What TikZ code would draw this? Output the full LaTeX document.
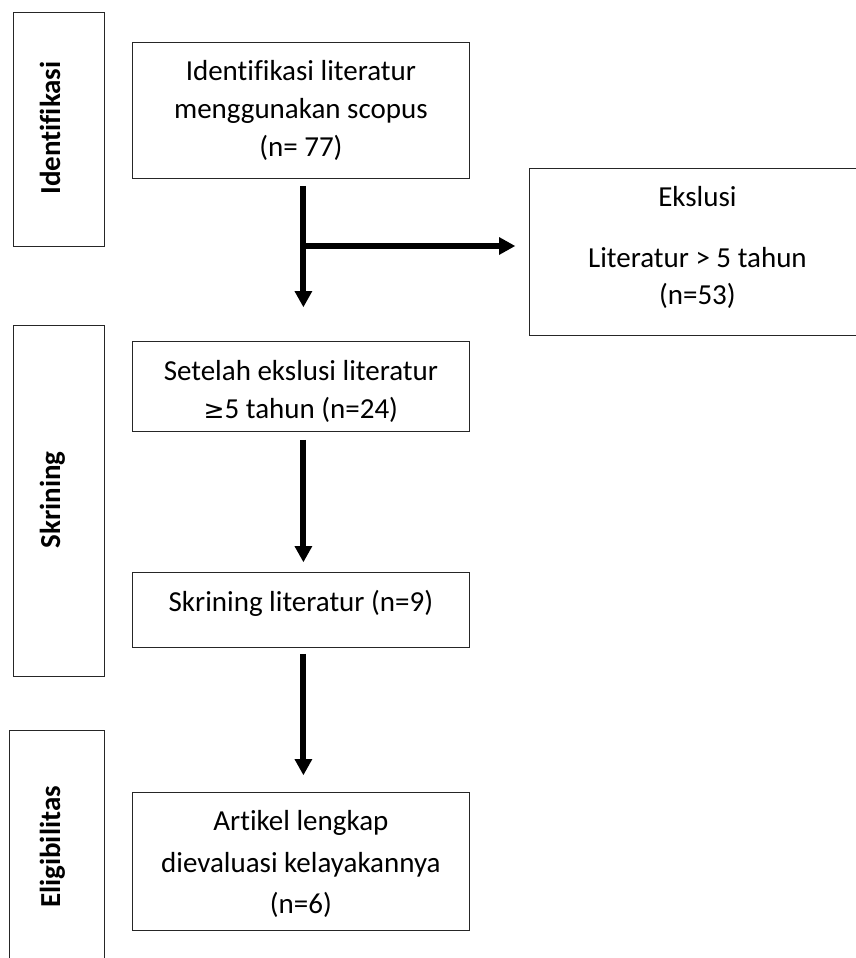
\documentclass[tikz,border=0pt]{standalone}
\usepackage{fontspec}
\setmainfont{Carlito}[Ligatures=NoCommon]
\newfontfamily\symfnt{DejaVu Sans}
\usetikzlibrary{arrows.meta}
\begin{document}
\begin{tikzpicture}[x=1pt,y=-1pt,
  box/.style={draw=black!85, line width=0.8pt, inner sep=0pt, anchor=north west},
  txt/.style={inner sep=0pt, align=center, font=\fontsize{29}{38}\selectfont},
  lbl/.style={inner sep=0pt, rotate=90, anchor=base, font=\fontsize{29}{36}\selectfont\bfseries},
  arr/.style={line width=6pt, -{Triangle[width=18pt,length=16pt,line width=0pt]}}]
\useasboundingbox (0,0) rectangle (855,958);
% stage label boxes
\node[box, minimum width=91.5pt, minimum height=234pt] (l1) at (12.5,12) {};
\node[box, minimum width=91.5pt, minimum height=351pt] (l2) at (12.5,325) {};
\node[box, minimum width=95pt, minimum height=250pt] (l3) at (9,730) {};
\node[lbl] (lt1) at (60,128) {Identifikasi};
\node[lbl] (lt2) at (60,500) {Skrining};
\node[lbl] (lt3) at (60,847) {Eligibilitas};
% flow boxes
\node[box, minimum width=337pt, minimum height=136pt] (b1) at (132,42) {};
\node[box, minimum width=341pt, minimum height=167pt] (ex) at (529,168) {};
\node[box, minimum width=337pt, minimum height=90pt] (b2) at (132,341) {};
\node[box, minimum width=337pt, minimum height=75pt] (b3) at (132,572) {};
\node[box, minimum width=337pt, minimum height=138pt] (b4) at (132,792) {};
% texts
\node[txt] (t1) at (b1.center) {Identifikasi literatur\\menggunakan scopus\\(n= 77)};
\node[txt, font=\fontsize{29}{37}\selectfont, yshift=4pt] (tex) at ([xshift=-2.5pt]ex.center) {Ekslusi\\[24pt]Literatur > 5 tahun\\(n=53)};
\node[txt, yshift=-5pt] (t2) at (b2.center) {Setelah ekslusi literatur\\{\symfnt\fontsize{25}{38}\selectfont ≥}5 tahun (n=24)};
\node[txt, yshift=7pt] (t3) at (b3.center) {Skrining literatur (n=9)};
\node[txt, font=\fontsize{29}{41.5}\selectfont, yshift=-3pt] (t4) at (b4.center) {Artikel lengkap\\dievaluasi kelayakannya\\(n=6)};
% arrows
\draw[arr, shorten <=7pt, shorten >=34pt] ([xshift=2.5pt]b1.south) -- ([xshift=2.5pt]b2.north);
\coordinate (j) at ([xshift=2.5pt]b1.south |- 0,246);
\draw[arr, shorten >=14pt] (j) -- (j -| ex.west);
\draw[arr, shorten <=8pt, shorten >=10pt] ([xshift=2.5pt]b2.south) -- ([xshift=2.5pt]b3.north);
\draw[arr, shorten <=6pt, shorten >=17pt] ([xshift=2.5pt]b3.south) -- ([xshift=2.5pt]b4.north);
\end{tikzpicture}
\end{document}
